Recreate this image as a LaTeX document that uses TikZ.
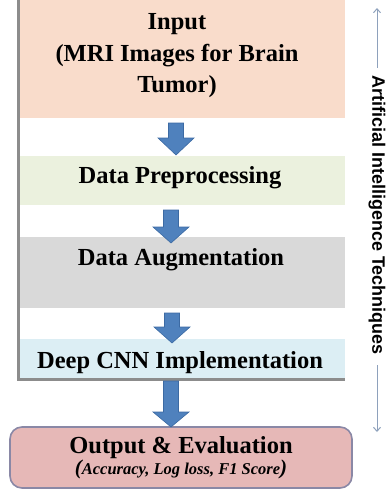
\documentclass[tikz,border=0pt]{standalone}
\usepackage{fontspec}
\setmainfont{Liberation Serif}
\newfontfamily\aisans{Liberation Sans}
\usetikzlibrary{arrows.meta}
\definecolor{inpc}{HTML}{F9DCCB}
\definecolor{prec}{HTML}{EBF1DE}
\definecolor{augc}{HTML}{D9D9D9}
\definecolor{cnnc}{HTML}{DCEEF4}
\definecolor{outc}{HTML}{E6B8B7}
\definecolor{outedge}{HTML}{8A88A6}
\definecolor{panelc}{HTML}{8C8C8C}
\definecolor{arrfill}{HTML}{4F81BD}
\definecolor{arredge}{HTML}{3C6AA3}
\definecolor{aic}{HTML}{8EA1BC}
\newcommand{\downblock}[4]{%
  \filldraw[blockarrow] ({#1-7.5},#2) -- ({#1+7.5},#2) -- ({#1+7.5},#3) -- ({#1+18},#3)
    -- (#1,#4) -- ({#1-18},#3) -- ({#1-7.5},#3) -- cycle;}
\begin{document}
\begin{tikzpicture}[x=1pt,y=-1pt,
  band/.style={rectangle, inner sep=0pt, outer sep=0pt, anchor=north west, minimum width=325},
  title/.style={font=\fontsize{24.5}{31.5}\selectfont\bfseries, inner sep=0pt, align=center},
  blockarrow/.style={fill=arrfill, draw=arredge, line width=0.6pt, line join=miter},
  paneledge/.style={draw=panelc, line width=3pt},
  outbox/.style={rectangle, rounded corners=12pt, fill=outc, draw=outedge, line width=1.6pt,
    minimum width=342, minimum height=61, align=center, inner sep=0pt,
    font=\fontsize{24.5}{21}\selectfont\bfseries},
  aitext/.style={font=\aisans\fontsize{18}{18}\selectfont\bfseries, inner sep=2pt},
  aiarrow/.style={draw=aic, line width=1pt, -{Straight Barb[length=4pt,width=7pt]}}]
\useasboundingbox (0,0) rectangle (386,491);
% bands
\node[band, fill=inpc, minimum height=118] (inp) at (20,0) {};
\node[band, fill=prec, minimum height=49] (pre) at (20,156) {};
\node[band, fill=augc, minimum height=71] (aug) at (20,237) {};
\node[band, fill=cnnc, minimum height=40] (cnn) at (20,339) {};
\draw[paneledge] (18.5,0) -- (18.5,379.5) -- (345,379.5);
% texts
\node[title] (tinp) at (177,55.6) {Input\\(MRI Images for Brain\\Tumor)};
\node[title, anchor=base] (tpre) at (180,183) {Data Preprocessing};
\node[title, anchor=base] (taug) at (181,265) {Data Augmentation};
\node[title, anchor=base] (tcnn) at (180,368) {Deep CNN Implementation};
% output
\node[outbox] (out) at (181,457.5) {Output \& Evaluation\\
  {\fontsize{16.5}{16.5}\selectfont\bfseries\itshape{\fontsize{21}{21}\selectfont(}Accuracy, Log loss, F1 Score{\fontsize{21}{21}\selectfont)}}};
% block arrows
\downblock{176}{123}{138}{155}
\downblock{171}{210}{227}{243}
\downblock{172}{313}{327}{343}
\downblock{171}{381}{412}{427}
% side label
\node[aitext, rotate=-90] (ai) at (377,215) {Artificial Intelligence Techniques};
\coordinate (aitop) at (377,8);
\coordinate (aibot) at (377,432);
\draw[aiarrow, shorten <=5pt] (ai.west) -- (aitop);
\draw[aiarrow, shorten <=8pt] (ai.east) -- (aibot);
\end{tikzpicture}
\end{document}
